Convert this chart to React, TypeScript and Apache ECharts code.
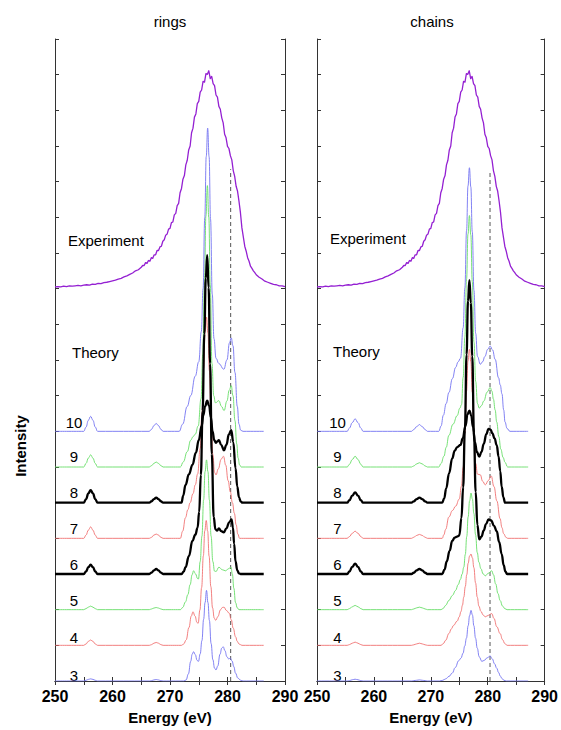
import { useEffect, useRef } from "react";
import * as echarts from "echarts";

type Pts = [number, number][];

// ---------- axis / labels ----------
const ENERGY_MIN = 250;
const ENERGY_MAX = 290;
const INTENSITY_MAX = 18;
const PANEL_TITLES = ["rings", "chains"];
const CURVE_LABELS = ["3", "4", "5", "6", "7", "8", "9", "10"];
const CURVE_OFFSETS = [0, 1, 2, 3, 4, 5, 6, 7];
const EXPERIMENT_OFFSET = 11.05;
const DASH_ENERGY = [280.55, 280.4];
const DASH_TOP = [14.35, 14.25];

// ---------- experiment (same spectrum in both panels), height above its baseline ----------
const experiment: Pts = [
  [250, 0.0], [250.5, 0.01], [251, 0.0], [251.5, 0.02], [252, 0.01], [252.5, 0.03], [253, 0.02], [253.5, 0.03],
  [254, 0.04], [254.5, 0.03], [255, 0.05], [255.5, 0.06], [256, 0.05], [256.5, 0.08], [257, 0.07], [257.5, 0.1],
  [258, 0.09], [258.5, 0.12], [259, 0.13], [259.5, 0.15], [260, 0.17], [260.5, 0.19], [261, 0.22], [261.5, 0.24],
  [262, 0.28], [262.5, 0.31], [263, 0.35], [263.5, 0.39], [264, 0.45], [264.5, 0.48],
  [265, 0.55], [265.25, 0.6], [265.5, 0.6], [265.75, 0.68], [266, 0.66], [266.25, 0.74], [266.5, 0.72], [266.75, 0.82],
  [267, 0.8], [267.25, 0.9], [267.5, 0.9], [267.75, 1.02], [268, 1.02], [268.25, 1.12], [268.5, 1.14], [268.75, 1.28],
  [269, 1.32], [269.25, 1.45], [269.5, 1.48], [269.75, 1.62], [270, 1.64], [270.25, 1.8], [270.5, 1.82], [270.75, 2.02],
  [271, 2.06], [271.25, 2.28], [271.5, 2.34], [271.75, 2.64], [272, 2.76], [272.25, 3.02], [272.5, 3.12], [272.75, 3.42],
  [273, 3.55], [273.25, 3.84], [273.5, 3.95], [273.75, 4.32], [274, 4.45], [274.25, 4.76], [274.5, 4.85], [274.75, 5.14],
  [275, 5.2], [275.25, 5.46], [275.5, 5.52], [275.75, 5.76], [276, 5.74], [276.25, 5.98], [276.5, 5.96], [276.75, 6.06],
  [277, 5.84], [277.25, 5.9], [277.5, 5.7], [277.75, 5.64], [278, 5.38], [278.25, 5.32], [278.5, 5.06], [278.75, 4.98],
  [279, 4.74], [279.25, 4.6], [279.5, 4.28], [279.75, 4.18], [280, 3.94], [280.25, 3.88], [280.5, 3.68], [280.75, 3.56],
  [281, 3.26], [281.25, 3.1], [281.5, 2.82], [281.75, 2.68], [282, 2.4], [282.25, 2.08], [282.5, 1.66], [282.75, 1.4],
  [283, 1.14], [283.25, 1.0], [283.5, 0.82], [283.75, 0.72], [284, 0.58], [284.25, 0.52], [284.5, 0.45], [284.75, 0.4],
  [285, 0.34], [285.5, 0.27], [286, 0.22], [286.5, 0.16], [287, 0.13], [287.5, 0.1], [288, 0.07], [288.5, 0.06],
  [289, 0.03], [289.5, 0.03], [290, 0.01],
];

// ---------- theory, rings (height above each curve's baseline) ----------
const rings3: Pts = [
  [250, 0], [255.0, 0], [255.4, 0.02], [255.8, 0.045], [256.2, 0.06], [256.6, 0.045], [257.0, 0.02], [257.4, 0],
  [266.4, 0], [266.8, 0.01], [267.2, 0.03], [267.6, 0.04], [268.0, 0.03], [268.4, 0.01], [268.8, 0],
  [272.4, 0], [272.8, 0.03], [273.2, 0.2], [273.6, 0.55], [273.85, 0.75], [274.1, 0.82], [274.4, 0.74], [274.7, 0.58],
  [274.95, 0.55], [275.25, 0.76], [275.55, 1.13], [275.85, 1.73], [276.1, 2.2], [276.35, 2.54], [276.6, 2.2],
  [276.85, 1.7], [277.15, 1.05], [277.45, 0.6], [277.75, 0.36], [278.0, 0.31], [278.3, 0.42], [278.7, 0.75],
  [279.0, 0.92], [279.25, 0.96], [279.55, 0.85], [279.9, 0.68], [280.2, 0.62], [280.5, 0.64], [280.8, 0.56],
  [281.1, 0.4], [281.4, 0.22], [281.8, 0.08], [282.3, 0.02], [282.7, 0], [286.3, 0],
];
const rings4: Pts = [
  [250, 0], [255.0, 0], [255.4, 0.04], [255.8, 0.11], [256.2, 0.15], [256.6, 0.11], [257.0, 0.04], [257.4, 0],
  [266.4, 0], [266.8, 0.02], [267.2, 0.06], [267.6, 0.08], [268.0, 0.06], [268.4, 0.02], [268.8, 0],
  [272.0, 0], [272.4, 0.04], [272.8, 0.15], [273.3, 0.5], [273.7, 0.82], [274.0, 0.94], [274.35, 0.82], [274.7, 0.64],
  [274.9, 0.62], [275.2, 0.99], [275.5, 1.62], [275.8, 2.51], [276.05, 3.21], [276.3, 3.5], [276.55, 3.2],
  [276.8, 2.5], [277.1, 1.65], [277.4, 1.05], [277.7, 0.76], [277.95, 0.7], [278.3, 0.8], [278.8, 1.0], [279.1, 1.06],
  [279.4, 1.07], [279.8, 0.98], [280.3, 0.9], [280.65, 0.72], [281.0, 0.48], [281.4, 0.24], [281.7, 0.11],
  [282.0, 0.04], [282.5, 0], [286.3, 0],
];
const rings5: Pts = [
  [250, 0], [255.0, 0], [255.4, 0.03], [255.8, 0.07], [256.2, 0.1], [256.6, 0.07], [257.0, 0.03], [257.4, 0],
  [266.4, 0], [266.8, 0.02], [267.2, 0.045], [267.6, 0.06], [268.0, 0.045], [268.4, 0.02], [268.8, 0],
  [271.8, 0], [272.2, 0.06], [272.7, 0.22], [273.1, 0.42], [273.5, 0.7], [273.85, 0.98], [274.1, 1.09], [274.45, 1.0],
  [274.8, 0.87], [274.95, 0.86], [275.25, 1.35], [275.55, 2.06], [275.85, 3.08], [276.1, 3.87], [276.35, 4.2],
  [276.6, 3.87], [276.85, 3.08], [277.15, 2.06], [277.45, 1.35], [277.75, 1.08], [278.0, 1.07], [278.5, 1.19],
  [279.1, 1.12], [279.65, 1.09], [280.2, 1.15], [280.6, 1.19], [280.85, 1.0], [281.1, 0.6], [281.4, 0.2],
  [281.7, 0.05], [282.0, 0], [286.3, 0],
];
const rings6: Pts = [
  [250, 0], [255.0, 0], [255.4, 0.07], [255.8, 0.19], [256.2, 0.26], [256.6, 0.19], [257.0, 0.07], [257.4, 0],
  [266.4, 0], [266.8, 0.04], [267.2, 0.1], [267.6, 0.14], [268.0, 0.1], [268.4, 0.04], [268.8, 0],
  [272.0, 0], [272.4, 0.07], [272.7, 0.19], [273.3, 0.51], [273.9, 0.93], [274.4, 1.1], [274.8, 1.3], [275.07, 1.74],
  [275.37, 2.78], [275.67, 4.57], [275.97, 6.73], [276.22, 8.29], [276.47, 8.94], [276.72, 8.03], [276.97, 5.9],
  [277.27, 3.36], [277.6, 1.6], [277.9, 1.25], [278.2, 1.22], [278.5, 1.28], [278.9, 1.2], [279.36, 1.17],
  [279.8, 1.28], [280.3, 1.45], [280.7, 1.53], [280.95, 1.3], [281.15, 0.85], [281.4, 0.35], [281.7, 0.1],
  [282.0, 0.02], [282.3, 0], [286.3, 0],
];
const rings7: Pts = [
  [250, 0], [255.0, 0], [255.4, 0.09], [255.8, 0.23], [256.2, 0.32], [256.6, 0.23], [257.0, 0.09], [257.4, 0],
  [266.4, 0], [266.8, 0.03], [267.2, 0.09], [267.6, 0.12], [268.0, 0.09], [268.4, 0.03], [268.8, 0],
  [271.8, 0], [272.2, 0.2], [272.7, 0.58], [273.1, 0.8], [273.5, 1.0], [274.0, 1.25], [274.4, 1.5], [274.8, 1.8],
  [275.25, 2.52], [275.55, 3.47], [275.85, 4.77], [276.1, 5.78], [276.35, 6.2], [276.6, 5.75], [276.85, 4.7],
  [277.15, 3.35], [277.45, 2.35], [277.75, 1.85], [278.0, 1.78], [278.4, 1.95], [278.9, 2.22], [279.3, 2.3],
  [279.7, 2.05], [280.1, 1.62], [280.5, 1.3], [280.85, 1.0], [281.2, 0.7], [281.5, 0.38], [281.8, 0.12],
  [282.1, 0], [286.3, 0],
];
const rings8: Pts = [
  [250, 0], [255.0, 0], [255.4, 0.1], [255.8, 0.26], [256.2, 0.35], [256.6, 0.26], [257.0, 0.1], [257.4, 0],
  [266.4, 0], [266.8, 0.04], [267.2, 0.1], [267.6, 0.14], [268.0, 0.1], [268.4, 0.04], [268.8, 0],
  [272.0, 0], [272.3, 0.2], [272.7, 0.5], [273.3, 0.8], [273.9, 1.06], [274.5, 1.4], [275.0, 1.75], [275.5, 2.15],
  [275.8, 2.45], [276.1, 2.7], [276.47, 2.86], [276.8, 2.72], [277.1, 2.4], [277.4, 2.0], [277.7, 1.75],
  [278.0, 1.68], [278.25, 1.72], [278.5, 1.75], [278.9, 1.62], [279.4, 1.47], [279.8, 1.62], [280.25, 1.92],
  [280.65, 2.03], [281.0, 1.7], [281.4, 0.96], [281.7, 0.45], [282.0, 0.15], [282.3, 0.03], [282.6, 0], [286.3, 0],
];
const rings9: Pts = [
  [250, 0], [255.0, 0], [255.4, 0.1], [255.8, 0.25], [256.2, 0.34], [256.6, 0.25], [257.0, 0.1], [257.4, 0],
  [266.4, 0], [266.8, 0.04], [267.2, 0.1], [267.6, 0.14], [268.0, 0.1], [268.4, 0.04], [268.8, 0],
  [271.8, 0], [272.3, 0.14], [273.0, 0.43], [273.6, 0.75], [274.0, 0.85], [274.4, 0.92], [274.9, 1.15], [275.4, 1.92],
  [275.7, 3.16], [276.0, 5.29], [276.25, 7.04], [276.5, 7.89], [276.75, 7.0], [277.0, 5.1], [277.3, 2.9],
  [277.6, 2.0], [277.9, 1.8], [278.5, 1.86], [278.95, 1.7], [279.4, 1.58], [279.9, 1.85], [280.3, 2.15],
  [280.65, 2.28], [280.95, 2.0], [281.3, 1.3], [281.6, 0.65], [281.85, 0.25], [282.1, 0.06], [282.4, 0], [286.3, 0],
];
const rings10: Pts = [
  [250, 0], [255.0, 0], [255.4, 0.12], [255.8, 0.31], [256.2, 0.42], [256.6, 0.31], [257.0, 0.12], [257.4, 0],
  [266.4, 0], [266.8, 0.06], [267.2, 0.16], [267.6, 0.22], [268.0, 0.16], [268.4, 0.06], [268.8, 0],
  [271.6, 0], [272.2, 0.2], [273.0, 0.7], [273.6, 1.0], [274.4, 1.55], [275.0, 1.95], [275.45, 2.8], [275.75, 4.0],
  [276.05, 6.0], [276.3, 7.7], [276.55, 8.5], [276.8, 7.7], [277.05, 5.95], [277.35, 3.85], [277.65, 2.6],
  [278.0, 2.05], [278.5, 1.9], [279.36, 1.74], [279.9, 2.0], [280.35, 2.48], [280.65, 2.62], [280.95, 2.4],
  [281.3, 1.65], [281.7, 0.7], [282.0, 0.2], [282.3, 0.03], [282.7, 0], [286.3, 0],
];

// ---------- theory, chains ----------
const chains3: Pts = [
  [250, 0], [255.3, 0], [255.7, 0.01], [256.2, 0.035], [256.7, 0.05], [257.2, 0.035], [257.7, 0.01], [258.1, 0],
  [266.6, 0], [267.0, 0.01], [267.5, 0.02], [268.0, 0.03], [268.5, 0.02], [269.0, 0.01], [269.4, 0],
  [271.5, 0], [272.1, 0.02], [272.6, 0.06], [273.2, 0.13], [273.76, 0.22], [274.3, 0.38], [274.9, 0.57], [275.3, 0.64],
  [275.66, 0.78], [275.96, 0.98], [276.26, 1.2], [276.56, 1.55], [276.81, 1.83], [277.06, 1.98], [277.31, 1.85],
  [277.56, 1.55], [277.86, 1.2], [278.16, 0.92], [278.5, 0.68], [278.97, 0.55], [279.4, 0.58], [279.9, 0.65],
  [280.43, 0.7], [280.8, 0.62], [281.2, 0.48], [281.58, 0.36], [281.9, 0.24], [282.2, 0.14], [282.5, 0.07],
  [282.85, 0.02], [283.3, 0], [287.1, 0],
];
const chains4: Pts = [
  [250, 0], [255.3, 0], [255.7, 0.02], [256.2, 0.06], [256.7, 0.09], [257.2, 0.06], [257.7, 0.02], [258.1, 0],
  [266.6, 0], [267.0, 0.015], [267.5, 0.04], [268.0, 0.06], [268.5, 0.04], [269.0, 0.015], [269.4, 0],
  [271.8, 0], [272.2, 0.05], [272.6, 0.14], [273.18, 0.33], [273.6, 0.46], [274.0, 0.56], [274.63, 0.68], [275.0, 0.8],
  [275.3, 0.95], [275.55, 1.12], [275.79, 1.35], [276.06, 1.65], [276.31, 1.98], [276.56, 2.3], [276.81, 2.5],
  [277.06, 2.56], [277.31, 2.45], [277.56, 2.18], [277.86, 1.75], [278.16, 1.35], [278.45, 1.1], [278.8, 0.95],
  [279.2, 0.85], [279.57, 0.8], [280.1, 0.84], [280.71, 0.89], [281.1, 0.75], [281.6, 0.52], [282.17, 0.33],
  [282.6, 0.16], [283.0, 0.05], [283.4, 0], [287.1, 0],
];
const chains5: Pts = [
  [250, 0], [255.3, 0], [255.7, 0.03], [256.2, 0.08], [256.7, 0.12], [257.2, 0.08], [257.7, 0.03], [258.1, 0],
  [266.6, 0], [267.0, 0.02], [267.5, 0.05], [268.0, 0.07], [268.5, 0.05], [269.0, 0.02], [269.4, 0],
  [271.8, 0], [272.2, 0.04], [272.6, 0.12], [273.18, 0.26], [273.8, 0.4], [274.35, 0.54], [274.8, 0.7], [275.2, 0.85],
  [275.5, 1.0], [275.79, 1.19], [276.06, 1.55], [276.31, 2.05], [276.56, 2.6], [276.81, 3.05], [277.06, 3.27],
  [277.31, 3.1], [277.56, 2.7], [277.86, 2.1], [278.16, 1.6], [278.45, 1.33], [278.8, 1.15], [279.2, 1.0],
  [279.57, 0.95], [280.1, 1.02], [280.71, 1.09], [281.0, 0.98], [281.4, 0.72], [281.8, 0.45], [282.17, 0.26],
  [282.6, 0.1], [283.0, 0.03], [283.4, 0], [287.1, 0],
];
const chains6: Pts = [
  [250, 0], [255.3, 0], [255.7, 0.07], [256.2, 0.2], [256.7, 0.29], [257.2, 0.2], [257.7, 0.07], [258.1, 0],
  [266.6, 0], [267.0, 0.035], [267.5, 0.1], [268.0, 0.14], [268.5, 0.1], [269.0, 0.035], [269.4, 0],
  [272.0, 0], [272.4, 0.12], [272.8, 0.35], [273.3, 0.65], [273.76, 0.93], [274.2, 1.02], [274.6, 1.05], [275.0, 1.08],
  [275.38, 1.57], [275.68, 2.43], [275.98, 4.03], [276.28, 6.15], [276.53, 7.65], [276.78, 8.24], [277.03, 7.6],
  [277.28, 6.1], [277.58, 3.95], [277.88, 2.3], [278.18, 1.38], [278.52, 0.97], [278.9, 1.05], [279.3, 1.22],
  [279.7, 1.4], [280.14, 1.53], [280.6, 1.5], [281.1, 1.35], [281.58, 1.2], [282.0, 0.9], [282.45, 0.56],
  [282.8, 0.25], [283.1, 0.07], [283.4, 0], [287.1, 0],
];
const chains7: Pts = [
  [250, 0], [255.3, 0], [255.7, 0.05], [256.2, 0.14], [256.7, 0.2], [257.2, 0.14], [257.7, 0.05], [258.1, 0],
  [266.6, 0], [267.0, 0.03], [267.5, 0.08], [268.0, 0.11], [268.5, 0.08], [269.0, 0.03], [269.4, 0],
  [272.0, 0], [272.3, 0.1], [272.6, 0.25], [273.18, 0.6], [273.8, 0.78], [274.35, 0.9], [275.0, 1.1], [275.38, 1.46],
  [275.68, 1.99], [275.98, 2.94], [276.28, 4.13], [276.53, 4.97], [276.78, 5.3], [277.03, 4.95], [277.28, 4.1],
  [277.58, 2.95], [277.88, 2.1], [278.2, 1.8], [278.7, 1.78], [279.1, 1.6], [279.57, 1.5], [280.1, 1.62],
  [280.6, 1.75], [281.1, 1.45], [281.6, 1.05], [282.17, 0.55], [282.5, 0.3], [282.8, 0.13], [283.2, 0.03],
  [283.5, 0], [287.1, 0],
];
const chains8: Pts = [
  [250, 0], [255.3, 0], [255.7, 0.07], [256.2, 0.2], [256.7, 0.29], [257.2, 0.2], [257.7, 0.07], [258.1, 0],
  [266.6, 0], [267.0, 0.035], [267.5, 0.1], [268.0, 0.14], [268.5, 0.1], [269.0, 0.035], [269.4, 0],
  [272.0, 0], [272.35, 0.12], [272.7, 0.4], [273.2, 0.82], [273.76, 1.24], [274.2, 1.46], [274.63, 1.56],
  [275.22, 1.62], [275.6, 1.8], [276.09, 2.15], [276.45, 2.48], [276.78, 2.58], [277.1, 2.45], [277.4, 2.12],
  [277.75, 1.7], [278.1, 1.42], [278.52, 1.29], [278.9, 1.42], [279.3, 1.65], [279.75, 1.92], [280.14, 2.07],
  [280.5, 2.05], [280.8, 1.95], [281.2, 1.8], [281.58, 1.61], [281.9, 1.3], [282.2, 0.88], [282.45, 0.45],
  [282.75, 0.15], [283.04, 0], [287.1, 0],
];
const chains9: Pts = [
  [250, 0], [255.3, 0], [255.7, 0.075], [256.2, 0.21], [256.7, 0.3], [257.2, 0.21], [257.7, 0.075], [258.1, 0],
  [266.6, 0], [267.0, 0.03], [267.5, 0.085], [268.0, 0.12], [268.5, 0.085], [269.0, 0.03], [269.4, 0],
  [271.4, 0], [271.8, 0.1], [272.3, 0.3], [272.7, 0.55], [273.18, 0.89], [273.9, 1.2], [274.63, 1.44], [275.1, 1.65],
  [275.4, 1.75], [275.68, 2.51], [275.98, 3.64], [276.28, 5.27], [276.53, 6.53], [276.78, 7.05], [277.03, 6.5],
  [277.28, 5.2], [277.58, 3.5], [277.88, 2.4], [278.2, 1.78], [278.5, 1.65], [278.9, 1.72], [279.3, 1.85],
  [279.9, 2.1], [280.43, 2.23], [280.75, 2.12], [281.0, 1.9], [281.3, 1.6], [281.58, 1.26], [281.95, 0.85],
  [282.3, 0.5], [282.7, 0.27], [283.04, 0.13], [283.5, 0], [287.1, 0],
];
const chains10: Pts = [
  [250, 0], [255.3, 0], [255.7, 0.09], [256.2, 0.245], [256.7, 0.35], [257.2, 0.245], [257.7, 0.09], [258.1, 0],
  [266.6, 0], [267.0, 0.05], [267.5, 0.13], [268.0, 0.19], [268.5, 0.13], [269.0, 0.05], [269.4, 0],
  [271.4, 0], [271.8, 0.15], [272.2, 0.45], [272.7, 0.78], [273.18, 1.09], [273.8, 1.48], [274.35, 1.79], [274.8, 1.95],
  [275.22, 2.05], [275.68, 2.9], [275.98, 4.02], [276.28, 5.63], [276.53, 6.88], [276.78, 7.39], [277.03, 6.85],
  [277.28, 5.6], [277.58, 3.95], [277.88, 2.75], [278.2, 2.1], [278.7, 1.88], [279.1, 1.95], [279.5, 2.1],
  [280.0, 2.3], [280.43, 2.39], [280.85, 2.28], [281.3, 2.02], [281.9, 1.5], [282.2, 1.3], [282.5, 1.05],
  [282.8, 0.6], [283.04, 0.26], [283.4, 0.08], [283.9, 0], [287.1, 0],
];

const RINGS = [rings3, rings4, rings5, rings6, rings7, rings8, rings9, rings10];
const CHAINS = [chains3, chains4, chains5, chains6, chains7, chains8, chains9, chains10];

// ---------- styles ----------
const BLUE = "#7474f2";
const RED = "#f07272";
const GREEN = "#66de66";
const BLACK = "#000000";
const PURPLE = "#9420d2";
const CURVE_COLORS = [BLUE, RED, GREEN, BLACK, RED, BLACK, GREEN, BLUE];
const FONT = "Liberation Sans, Arial, Helvetica, sans-serif";

const GRID_LEFT = [55, 317];
const GRID_TOP = 39;
const GRID_W = 230;
const GRID_H = 649;

export default function App() {
  const ref = useRef<HTMLDivElement>(null);

  useEffect(() => {
    document.body.style.margin = "0";
    if (!ref.current) return;
    const chart = echarts.init(ref.current, undefined, { renderer: "svg" });

    const grids = GRID_LEFT.map((left) => ({ left, top: GRID_TOP, width: GRID_W, height: GRID_H }));

    const axisLine = { show: true, lineStyle: { color: "#333", width: 1 } };
    const tick = { show: true, inside: true, length: 4, lineStyle: { color: "#333", width: 1 } };

    const xAxis: any[] = [];
    const yAxis: any[] = [];
    [0, 1].forEach((g) => {
      xAxis.push({
        type: "value", gridIndex: g, min: ENERGY_MIN, max: ENERGY_MAX, interval: 5, position: "bottom",
        axisLine, axisTick: tick, splitLine: { show: false },
        axisLabel: {
          show: true, margin: 7, color: "#000", fontFamily: FONT, fontSize: 16, fontWeight: "bold",
          formatter: (v: number) => (v % 10 === 0 ? String(v) : ""),
        },
        name: "Energy (eV)", nameLocation: "middle", nameGap: 29,
        nameTextStyle: { color: "#000", fontFamily: FONT, fontSize: 15, fontWeight: "bold" },
      });
      xAxis.push({
        type: "value", gridIndex: g, min: ENERGY_MIN, max: ENERGY_MAX, interval: 5, position: "top",
        axisLine, axisTick: tick, axisLabel: { show: false }, splitLine: { show: false },
      });
      yAxis.push({
        type: "value", gridIndex: g, min: 0, max: INTENSITY_MAX, interval: 1, position: "left",
        axisLine, axisTick: tick, axisLabel: { show: false }, splitLine: { show: false },
      });
      yAxis.push({
        type: "value", gridIndex: g, min: 0, max: INTENSITY_MAX, interval: 1, position: "right",
        axisLine, axisTick: tick, axisLabel: { show: false }, splitLine: { show: false },
      });
    });

    const series: any[] = [];
    const mk = (data: Pts, offset: number, color: string, width: number, axis: number, z: number, smooth: number | boolean) => ({
      type: "line",
      xAxisIndex: axis,
      yAxisIndex: axis,
      data: data.map(([x, h]) => [x, h + offset]),
      symbol: "none",
      smooth,
      smoothMonotone: "x",
      lineStyle: { color, width, join: "round" },
      z,
      silent: true,
    });

    [RINGS, CHAINS].forEach((panel, p) => {
      const axis = p * 2;
      panel.forEach((curve, i) => {
        if (CURVE_COLORS[i] !== BLACK) series.push(mk(curve, CURVE_OFFSETS[i], CURVE_COLORS[i], 0.9, axis, 2, 0.45));
      });
      panel.forEach((curve, i) => {
        if (CURVE_COLORS[i] === BLACK) series.push(mk(curve, CURVE_OFFSETS[i], BLACK, 2.3, axis, 3, 0.45));
      });
      series.push(mk(experiment, EXPERIMENT_OFFSET, PURPLE, 1.3, axis, 4, false));
      series.push({
        type: "line", xAxisIndex: axis, yAxisIndex: axis, symbol: "none", silent: true, z: 1,
        data: [[DASH_ENERGY[p], 0], [DASH_ENERGY[p], DASH_TOP[p]]],
        lineStyle: { color: "#555", width: 1, type: [4, 3] },
      });
    });

    const txt = (text: string, x: number, y: number, size: number, align: string, weight = "normal", rotation = 0) => ({
      type: "text", x, y, rotation, silent: true,
      style: { text, fill: "#000", font: `${weight} ${size}px ${FONT}`, textAlign: align, textVerticalAlign: "middle" },
    });

    const graphic: any[] = [
      txt(PANEL_TITLES[0], 170, 21, 15, "center"),
      txt(PANEL_TITLES[1], 432, 21, 15, "center"),
      txt("Intensity", 20, 446, 15, "center", "bold", Math.PI / 2),
      txt("Experiment", 68, 240, 15, "left"),
      txt("Experiment", 330, 238, 15, "left"),
      txt("Theory", 72, 352, 15, "left"),
      txt("Theory", 333, 351, 15, "left"),
    ];
    const labelY = [675, 637, 600, 564, 528, 492, 456, 422];
    CURVE_LABELS.forEach((lab, i) => {
      graphic.push(txt(lab, 74, labelY[i], 15, "center"));
      graphic.push(txt(lab, 337.5, labelY[i] + 0.5, 15, "center"));
    });

    chart.setOption({
      animation: false,
      backgroundColor: "#fff",
      grid: grids,
      xAxis,
      yAxis,
      series,
      graphic,
    });

    return () => chart.dispose();
  }, []);

  return <div ref={ref} style={{ width: 561, height: 730 }} />;
}
